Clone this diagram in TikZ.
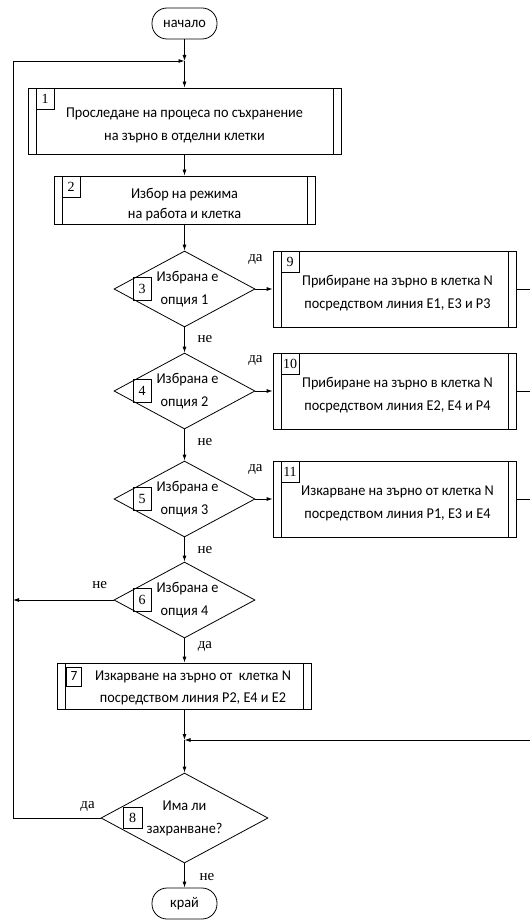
\documentclass[tikz,border=0pt]{standalone}
\usepackage{fontspec}
\setmainfont[FakeStretch=0.95]{Carlito}
\newfontfamily\numfont{Liberation Serif}
\usepackage{tikz}
\usetikzlibrary{arrows.meta}
\usetikzlibrary{shapes.geometric}
\newcommand{\myarrow}{-{Latex[length=6pt,width=4pt]}}
\newcommand{\topstrut}{\rule{0pt}{19pt}}
\tikzset{
	blk/.style={draw,rectangle,inner sep=0pt,align=center,font=\fontsize{15}{23}\selectfont,
		path picture={\draw ([xshift=8pt]path picture bounding box.north west) -- ([xshift=8pt]path picture bounding box.south west)
			([xshift=-8pt]path picture bounding box.north east) -- ([xshift=-8pt]path picture bounding box.south east);}},
	dec/.style={draw,diamond,aspect=1.85,inner sep=0pt,align=center,font=\fontsize{15}{23}\selectfont},
	term/.style={draw,rectangle,rounded corners=15pt,minimum width=65,minimum height=31,font=\fontsize{15}{23}\selectfont},
	num/.style={draw,rectangle,inner sep=0pt,minimum width=18,minimum height=21,font=\numfont\fontsize{14}{14}\selectfont},
	lbl/.style={inner sep=0pt,font=\numfont\fontsize{15}{15}\selectfont}
}
\begin{document}
\begin{tikzpicture}[x=1pt,y=-1pt,line width=0.8pt]
		\useasboundingbox (0,0) rectangle (530,920);
		\node[term] (start) at (184.5,23.5) {начало};
		\coordinate (j1) at (184.5,61);
		\node[blk,minimum width=313,minimum height=66] (b1) at (184.5,121) {\topstrut Проследане на процеса по съхранение\\на зърно в отделни клетки};
		\node[num,anchor=north west] (n1) at ([xshift=8]b1.north west) {1};
		\node[blk,minimum width=261,minimum height=48,font=\fontsize{15}{20}\selectfont] (b2) at (184.5,200) {\topstrut Избор на режима\\на работа и клетка};
		\node[num,anchor=north west] (n2) at ([xshift=8]b2.north west) {2};
		\node[dec,minimum width=141,minimum height=76] (d3) at (184.5,289) {\hspace*{6pt}Избрана е\\опция 1};
		\node[num,minimum height=23] (n3) at ([xshift=-42.5]d3.center) {3};
		\node[dec,minimum width=141,minimum height=76] (d4) at (184.5,391) {\hspace*{6pt}Избрана е\\опция 2};
		\node[num,minimum height=23] (n4) at ([xshift=-42.5]d4.center) {4};
		\node[dec,minimum width=141,minimum height=76] (d5) at (184.5,499) {\hspace*{6pt}Избрана е\\опция 3};
		\node[num,minimum height=23] (n5) at ([xshift=-42.5]d5.center) {5};
		\node[dec,minimum width=141,minimum height=76] (d6) at (184.5,600) {\hspace*{6pt}Избрана е\\опция 4};
		\node[num,minimum height=23] (n6) at ([xshift=-42.5]d6.center) {6};
		\node[blk,minimum width=243,minimum height=76] (b9) at (394.5,289) {\topstrut\hspace*{6pt}Прибиране на зърно в клетка N\\\hspace*{6pt}посредством линия E1, E3 и P3};
		\node[num,anchor=north west] (n9) at ([xshift=8]b9.north west) {9};
		\node[blk,minimum width=243,minimum height=76] (b10) at (394.5,391) {\topstrut\hspace*{6pt}Прибиране на зърно в клетка N\\\hspace*{6pt}посредством линия E2, E4 и P4};
		\node[num,anchor=north west] (n10) at ([xshift=8]b10.north west) {10};
		\node[blk,minimum width=243,minimum height=76] (b11) at (394.5,499) {\topstrut\hspace*{6pt}Изкарване на зърно от клетка N\\\hspace*{6pt}посредством линия P1, E3 и E4};
		\node[num,anchor=north west] (n11) at ([xshift=8]b11.north west) {11};
		\node[blk,minimum width=254,minimum height=46] (b7) at (184.5,686) {};
		\node[num,anchor=north west,minimum width=15,minimum height=19,font=\fontsize{14}{14}\selectfont] (n7) at ([xshift=9,yshift=-4]b7.north west) {7};
		\node[align=center,inner sep=0pt,font=\fontsize{15}{22}\selectfont] (t7) at (193,688) {Изкарване на зърно от~ клетка N\\посредством линия P2, E4 и E2};
		\coordinate (j2) at (184.5,740);
		\node[dec,minimum width=167,minimum height=90] (d8) at (184.5,818) {Има ли\\захранване?};
		\node[num,minimum width=19] (n8) at ([xshift=-52]d8.center) {8};
		\node[term] (stop) at (184.5,903.5) {край};
		\coordinate (l1) at (13,61);
		\coordinate (l6) at (13,600);
		\coordinate (l8) at (13,818);
		\coordinate (r9) at (530,289);
		\coordinate (r10) at (530,391);
		\coordinate (r11) at (530,499);
		\coordinate (r7) at (530,740);
		\draw[\myarrow] (start) -- (j1);
		\draw[\myarrow] (j1) -- (b1);
		\draw[\myarrow] (b1) -- (b2);
		\draw[\myarrow] (b2) -- (d3);
		\draw[\myarrow] (d3) -- (d4);
		\draw[\myarrow] (d4) -- (d5);
		\draw[\myarrow] (d5) -- (d6);
		\draw[\myarrow] (d3) -- (b9);
		\draw[\myarrow] (d4) -- (b10);
		\draw[\myarrow] (d5) -- (b11);
		\draw (b9) -- (r9);
		\draw (b10) -- (r10);
		\draw (b11) -- (r11);
		\draw[\myarrow] (d6.west) -- (l6);
		\draw[\myarrow] (d6) -- (b7);
		\draw[\myarrow] (b7) -- (j2);
		\draw[\myarrow] (r7) -- (j2);
		\draw[\myarrow] (j2) -- (d8);
		\draw[\myarrow] (d8) -- (stop);
		\draw[\myarrow] (d8.west) -- (l8) -- (l1) -- (j1);
		\node[lbl] (y3) at ([yshift=30]d3.east) {да};
		\node[lbl] (y4) at ([yshift=31]d4.east) {да};
		\node[lbl] (y5) at ([yshift=30]d5.east) {да};
		\node[lbl] (no3) at ([xshift=20.5,yshift=-12]d3.south) {не};
		\node[lbl] (no4) at ([xshift=20.5,yshift=-13]d4.south) {не};
		\node[lbl] (no5) at ([xshift=20.5,yshift=-13]d5.south) {не};
		\node[lbl] (no6) at ([xshift=-14,yshift=15]d6.west) {не};
		\node[lbl] (y6) at ([xshift=20.5,yshift=-8]d6.south) {да};
		\node[lbl] (y8) at ([xshift=-13,yshift=12]d8.west) {да};
		\node[lbl] (no8) at ([xshift=22.5,yshift=-14]d8.south) {не};
\end{tikzpicture}
\end{document}
